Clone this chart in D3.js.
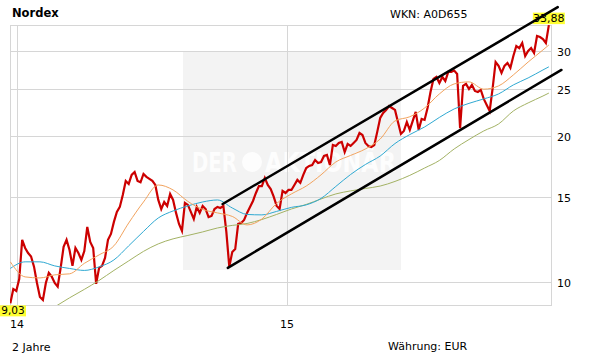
<!DOCTYPE html>
<html><head><meta charset="utf-8">
<script src="https://cdn.jsdelivr.net/npm/d3@7"></script>
<style>html,body{margin:0;padding:0;background:#fff;}svg{display:block;font-family:"DejaVu Sans",Verdana,sans-serif;}</style>
</head><body>
<svg id="c" width="611" height="364"></svg>
<script>
const title = "Nordex";
const wkn = "WKN: A0D655";
const periodLabel = "2 Jahre";
const currencyLabel = "Währung: EUR";
const yTicks = [10, 15, 20, 25, 30];
const xTicks = ["2014-01-01", "2015-01-01"];
const xTickLabels = ["14", "15"];

const dates = [
"2013-12-23","2013-12-27","2013-12-31",
"2014-01-04","2014-01-08","2014-01-12","2014-01-16","2014-01-20","2014-01-24","2014-01-28",
"2014-02-01","2014-02-05","2014-02-09","2014-02-13","2014-02-17","2014-02-21","2014-02-25",
"2014-03-01","2014-03-05","2014-03-09","2014-03-13","2014-03-17","2014-03-21","2014-03-25","2014-03-29",
"2014-04-02","2014-04-06","2014-04-10","2014-04-14","2014-04-18","2014-04-22","2014-04-26","2014-04-30",
"2014-05-04","2014-05-08","2014-05-12","2014-05-16","2014-05-20","2014-05-24","2014-05-28",
"2014-06-01","2014-06-05","2014-06-09","2014-06-13","2014-06-17","2014-06-21","2014-06-25","2014-06-29",
"2014-07-03","2014-07-07","2014-07-11","2014-07-15","2014-07-19","2014-07-23","2014-07-27","2014-07-31",
"2014-08-04","2014-08-08","2014-08-12","2014-08-16","2014-08-20","2014-08-24","2014-08-28",
"2014-09-01","2014-09-05","2014-09-09","2014-09-13","2014-09-17","2014-09-21","2014-09-25","2014-09-29",
"2014-10-03","2014-10-07","2014-10-11","2014-10-15","2014-10-19","2014-10-23","2014-10-27","2014-10-31",
"2014-11-04","2014-11-08","2014-11-12","2014-11-16","2014-11-20","2014-11-24","2014-11-28",
"2014-12-02","2014-12-06","2014-12-10","2014-12-14","2014-12-18","2014-12-22","2014-12-26","2014-12-30",
"2015-01-03","2015-01-07","2015-01-11","2015-01-15","2015-01-19","2015-01-23","2015-01-27","2015-01-31",
"2015-02-04","2015-02-08","2015-02-12","2015-02-16","2015-02-20","2015-02-24","2015-02-28",
"2015-03-04","2015-03-08","2015-03-12","2015-03-16","2015-03-20","2015-03-24","2015-03-28",
"2015-04-01","2015-04-05","2015-04-09","2015-04-13","2015-04-17","2015-04-21","2015-04-25","2015-04-29",
"2015-05-03","2015-05-07","2015-05-11","2015-05-15","2015-05-19","2015-05-23","2015-05-27","2015-05-31",
"2015-06-04","2015-06-08","2015-06-12","2015-06-16","2015-06-20","2015-06-24","2015-06-28",
"2015-07-02","2015-07-06","2015-07-10","2015-07-14","2015-07-18","2015-07-22","2015-07-26","2015-07-30",
"2015-08-03","2015-08-07","2015-08-11","2015-08-15","2015-08-19","2015-08-23","2015-08-27","2015-08-31",
"2015-09-04","2015-09-08","2015-09-12","2015-09-16","2015-09-20","2015-09-24","2015-09-28",
"2015-10-02","2015-10-06","2015-10-10","2015-10-14","2015-10-18","2015-10-22","2015-10-26","2015-10-30",
"2015-11-03","2015-11-07","2015-11-11","2015-11-15","2015-11-19","2015-11-23","2015-11-27",
"2015-12-01","2015-12-05","2015-12-09","2015-12-13","2015-12-17","2015-12-21"];

const price = [
9.03,9.67,9.58,10.14,12.21,11.75,11.47,11.28,10.75,9.95,
9.31,9.18,9.95,10.44,10.25,9.95,9.78,10.69,11.81,12.21,
11.64,10.79,11.75,11.47,11.10,11.58,12.98,12.09,11.75,9.91,
10.69,10.79,11.21,12.21,12.56,13.30,13.95,14.28,15.12,16.16,
15.93,16.63,16.86,16.16,16.05,16.70,16.47,16.32,16.16,15.85,
14.76,14.14,14.62,14.35,15.19,14.76,13.88,13.17,12.74,14.55,
14.42,13.95,13.48,14.28,13.88,14.35,14.14,13.61,13.68,14.14,
14.28,14.21,14.35,12.68,10.74,11.53,11.69,13.17,13.23,13.42,
13.88,14.28,14.69,15.26,15.77,15.77,16.39,15.85,15.55,15.00,
14.35,14.14,15.41,15.26,15.48,15.48,15.85,16.24,16.01,16.63,
17.18,17.35,17.43,17.85,17.60,17.68,18.19,18.28,17.43,19.17,
19.08,19.35,19.45,18.54,19.26,19.08,19.35,19.63,20.29,20.10,
19.35,19.08,18.99,19.17,20.40,21.80,22.32,22.64,23.07,22.85,
22.64,21.38,20.20,20.49,21.38,20.59,21.49,22.43,20.59,21.69,
21.59,22.85,24.66,26.23,26.49,25.74,26.49,25.98,27.12,27.12,
27.30,26.87,20.76,25.38,25.62,25.00,25.50,24.78,24.66,24.90,
23.86,23.18,22.53,25.12,28.43,27.91,26.99,27.91,28.30,27.65,
29.26,30.68,30.38,31.12,29.26,29.97,30.38,29.68,32.17,32.02,
31.72,31.12,33.88];

const maDates = ["2013-12-23","2014-01-12","2014-02-01","2014-02-21","2014-03-13","2014-04-02","2014-04-22",
"2014-05-12","2014-06-01","2014-06-21","2014-07-11","2014-07-31","2014-08-20","2014-09-09","2014-09-29",
"2014-10-19","2014-11-08","2014-11-28","2014-12-18","2015-01-07","2015-01-27","2015-02-16","2015-03-08",
"2015-03-28","2015-04-17","2015-05-07","2015-05-27","2015-06-16","2015-07-06","2015-07-26","2015-08-15",
"2015-09-04","2015-09-24","2015-10-14","2015-11-03","2015-11-23","2015-12-13","2015-12-21"];
const ma38 = [11.00,10.24,10.19,10.34,10.39,10.92,11.37,11.87,13.23,14.62,15.85,15.48,14.66,14.11,13.88,
13.65,13.11,13.48,14.52,15.19,15.77,16.63,17.68,18.24,18.81,19.72,21.49,21.92,22.85,24.43,25.62,
25.87,24.99,25.38,26.74,28.43,30.11,30.83];
const ma100 = [10.66,11.00,11.00,10.79,10.66,10.56,10.74,11.10,11.87,12.71,13.55,14.01,14.35,14.62,14.76,
14.21,13.78,13.75,13.98,14.25,14.42,14.87,15.74,16.66,17.47,18.19,19.30,20.14,20.88,21.85,22.75,
23.36,23.86,24.43,25.50,26.36,27.38,27.79];
const ma200 = [null,null,null,8.88,9.27,9.65,10.07,10.56,11.05,11.56,11.98,12.27,12.47,12.68,12.92,
13.08,13.20,13.45,13.78,14.14,14.45,14.83,15.19,15.41,15.59,15.77,16.12,16.59,17.18,17.81,18.81,
19.67,20.49,21.18,22.53,23.41,24.19,24.53];

const upperChannel = [["2014-10-06", 14.48], ["2016-01-02", 36.9]];
const lowerChannel = [["2014-10-13", 10.69], ["2016-01-07", 27.38]];

const parse = d3.utcParse("%Y-%m-%d");
const L = 10, R = 551, T = 25, B = 305;
const svg = d3.select("#c");

const x = d3.scaleUtc()
  .domain([Date.UTC(2013,11,22,12,53), Date.UTC(2015,11,23,21,20)])
  .range([L, R]);
const y = d3.scaleLog().domain([8.96, 33.9]).range([B, T]);

// watermark
const wm = svg.append("g");
wm.append("rect").attr("x",183).attr("y",52).attr("width",218).attr("height",218).attr("fill","#f3f3f3");
wm.append("text").attr("x",192).attr("y",172).attr("font-size",27).attr("font-weight","bold")
  .attr("fill","#fdfdfd").attr("textLength",45).attr("lengthAdjust","spacingAndGlyphs").text("DER");
wm.append("circle").attr("cx",252).attr("cy",162).attr("r",10).attr("fill","#fdfdfd");
wm.append("text").attr("x",265).attr("y",172).attr("font-size",27).attr("font-weight","bold")
  .attr("fill","#fdfdfd").attr("textLength",131).attr("lengthAdjust","spacingAndGlyphs").text("AKTIONÄR");

// grid
const grid = svg.append("g").attr("stroke","#d6d6d6").attr("stroke-width",1).attr("shape-rendering","crispEdges");
yTicks.forEach(v => {
  const yy = Math.round(y(v)) + 0.5;
  grid.append("line").attr("x1",L).attr("x2",R).attr("y1",yy).attr("y2",yy);
});
xTicks.forEach(s => {
  const xx = Math.round(x(parse(s))) + 0.5;
  grid.append("line").attr("x1",xx).attr("x2",xx).attr("y1",T).attr("y2",B);
});
grid.append("line").attr("x1",L).attr("x2",R).attr("y1",T+0.5).attr("y2",T+0.5);
grid.append("line").attr("x1",0).attr("x2",R).attr("y1",B+0.5).attr("y2",B+0.5);
grid.append("line").attr("x1",L+0.5).attr("x2",L+0.5).attr("y1",T).attr("y2",B);
grid.append("line").attr("x1",R+0.5).attr("x2",R+0.5).attr("y1",T).attr("y2",B+1);

// clip
svg.append("clipPath").attr("id","pc").append("rect").attr("x",L).attr("y",T).attr("width",R-L).attr("height",B-T);
const plot = svg.append("g").attr("clip-path","url(#pc)");

const priceData = dates.map((d,i) => ({d: parse(d), v: price[i]}));
const line = d3.line().x(p => x(p.d)).y(p => y(p.v));
plot.append("path").datum(priceData).attr("d", line).attr("fill","none")
  .attr("stroke","#cc0000").attr("stroke-width",2.2).attr("stroke-linejoin","miter");

const maLine = d3.line().defined(p => p.v != null).x(p => x(p.d)).y(p => y(p.v)).curve(d3.curveMonotoneX);
[[ma200,"#a3b264"],[ma100,"#2fa9d2"],[ma38,"#f2a35e"]].forEach(([arr,col]) => {
  const data = maDates.map((d,i) => ({d: parse(d), v: arr[i]}));
  plot.append("path").datum(data).attr("d", maLine).attr("fill","none")
    .attr("stroke",col).attr("stroke-width",1);
});

// axis labels
const yl = svg.append("g").attr("font-size",11).attr("fill","#000");
yTicks.forEach(v => {
  yl.append("text").attr("x",557).attr("y",Math.round(y(v))+4.5).text(v);
});
xTicks.forEach((s,i) => {
  yl.append("text").attr("x",x(parse(s))).attr("y",327.5).attr("text-anchor","middle").text(xTickLabels[i]);
});

// min / max labels
const maxI = d3.maxIndex(price), minI = d3.minIndex(price);
const fmt = v => v.toFixed(2).replace(".", ",");
const maxX = x(parse(dates[maxI])), maxY = y(price[maxI]);
const g1 = svg.append("g");
g1.append("rect").attr("x",maxX-16).attr("y",maxY-12.5).attr("width",32).attr("height",11.5).attr("fill","#ffff33");
g1.append("text").attr("x",maxX).attr("y",maxY-3).attr("text-anchor","middle").attr("font-size",11).text(fmt(price[maxI]));
const minX = Math.max(13, x(parse(dates[minI]))), minY = y(price[minI]);
g1.append("rect").attr("x",minX-13).attr("y",minY+2).attr("width",26).attr("height",11).attr("fill","#ffff33");
g1.append("text").attr("x",minX).attr("y",minY+11).attr("text-anchor","middle").attr("font-size",10.5).text(fmt(price[minI]));

// channel lines
[upperChannel, lowerChannel].forEach(ch => {
  svg.append("line")
    .attr("x1", x(parse(ch[0][0]))).attr("y1", y(ch[0][1]))
    .attr("x2", x(parse(ch[1][0]))).attr("y2", y(ch[1][1]))
    .attr("stroke","#000").attr("stroke-width",2.5).attr("stroke-linecap","round");
});

// texts
svg.append("text").attr("x",12).attr("y",17).attr("font-size",11.5).attr("font-weight","bold").text(title);
svg.append("text").attr("x",390).attr("y",18).attr("font-size",11).text(wkn);
svg.append("text").attr("x",12).attr("y",351).attr("font-size",11).text(periodLabel);
svg.append("text").attr("x",388).attr("y",350).attr("font-size",11).text(currencyLabel);
</script>
</body></html>
